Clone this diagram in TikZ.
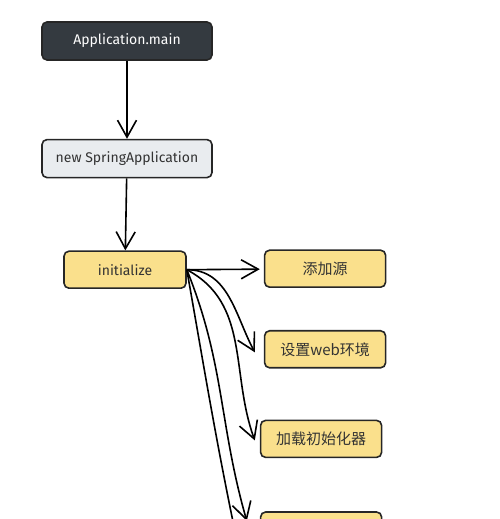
\documentclass[tikz,border=0pt]{standalone}
\usepackage{fontspec}
\setmainfont{Fira Sans}
\newfontfamily\cjk{Noto Sans CJK SC}
\usetikzlibrary{arrows.meta,positioning}
\definecolor{escuro}{HTML}{343A40}
\definecolor{cinza}{HTML}{E9ECEF}
\definecolor{amarelo}{RGB}{250,224,140}

\begin{document}
\begin{tikzpicture}[x=1pt,y=1pt,
    passo/.style={draw=black!85,line width=1.6pt,rounded corners=5pt,inner sep=0pt,
      minimum height=38pt,font=\fontsize{14}{16}\selectfont},
    topo/.style={passo,fill=escuro,text=white,minimum width=170pt},
    classe/.style={passo,fill=cinza,text=black!80,minimum width=170pt},
    etapa/.style={passo,fill=amarelo,text=black!80,minimum width=121pt,minimum height=37pt},
    tarefa/.style={etapa,font=\cjk\fontsize{15}{17}\selectfont},
    >={Straight Barb[length=17pt,width=19pt]},line width=1.6pt]
      \useasboundingbox (0,0) rectangle (500,519);
      \clip (0,0) rectangle (500,519);
      \node [topo]   (main)     at (127,478) {Application.main};
      \node [classe] (spring)   [below=78pt of main] {new SpringApplication};
      \node [etapa]  (init)     [below=72pt of spring,xshift=-2pt,minimum width=122pt] {initialize};
      \node [tarefa] (fonte)    [right=77pt of init,yshift=1pt] {添加源};
      \node [tarefa] (web)      [below=42pt of fonte] {设置web环境};
      \node [tarefa] (carga)    [below=51pt of web,xshift=-4pt] {加载初始化器};
      \node [tarefa] (ouvinte)  [below=53pt of carga] {设置监听器};
      \coordinate (proximo) at (241,-41);
      \path[->]
      (main) edge (spring)
      (spring) edge (init)
      (init.east) edge [shorten >=4pt] (fonte)
      (init.east) edge [out=0,in=118] ([xshift=-9pt,yshift=-3pt]web.west)
      (init.east) edge [out=-28,in=110] ([xshift=-5pt,yshift=-1.5pt]carga.west)
      (init.east) edge [out=-68,in=106] ([xshift=-13pt,yshift=9.5pt]ouvinte.west);
      \path (init.east) edge [out=-80,in=102] (proximo);
    \end{tikzpicture}
\end{document}
